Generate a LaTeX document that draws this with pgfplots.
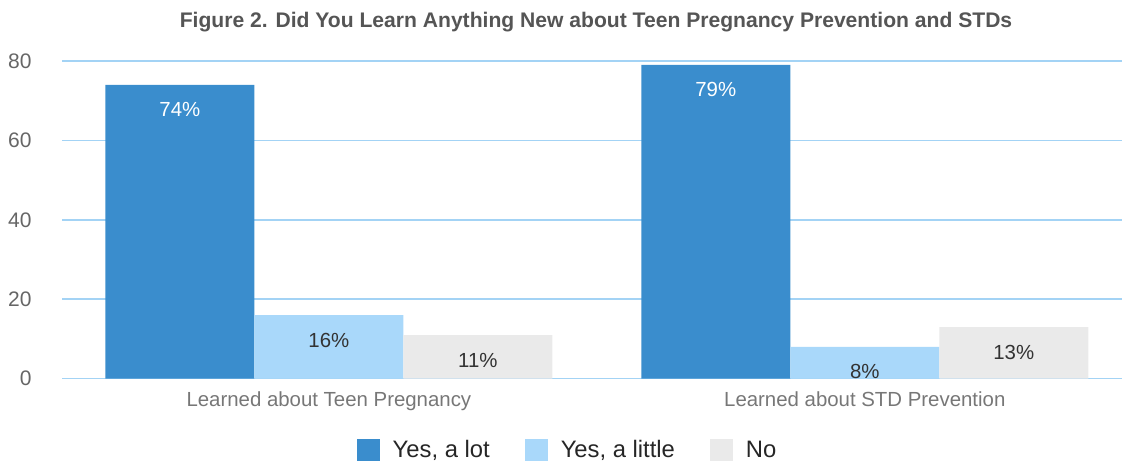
\documentclass[border=0pt]{standalone}
\usepackage{pgfplots}
\pgfplotsset{compat=1.18}
\usepackage{fontspec}
\setmainfont{Liberation Sans}
\definecolor{cdark}{HTML}{3A8DCD}
\definecolor{clight}{HTML}{A9D8FA}
\definecolor{cgray}{HTML}{EAEAEA}
\definecolor{cgrid}{HTML}{A3D3F5}
\definecolor{ctick}{HTML}{666666}
\definecolor{ccat}{HTML}{777777}
\definecolor{ctitle}{HTML}{555555}
\definecolor{clabel}{HTML}{333333}
\begin{document}
\begin{tikzpicture}
\begin{axis}[
  scale only axis, width=530pt, height=158.85pt,
  xmin=-0.498, xmax=1.48, ymin=0, ymax=80,
  ybar=0pt, bar width=74.5pt,
  xtick={0,1},
  xticklabels={Learned about Teen Pregnancy, Learned about STD Prevention},
  ytick={0,20,40,60,80},
  ymajorgrids, major grid style={draw=cgrid, line width=0.8pt},
  axis line style={draw=none}, tick style={draw=none},
  /pgf/number format/assume math mode=true,
  yticklabel style={font=\fontsize{10.5}{12}\selectfont, text=ctick, anchor=east, inner sep=0pt, xshift=-15pt},
  xticklabel style={font=\fontsize{10.2}{12}\selectfont, text=ccat, anchor=base, inner sep=0pt, yshift=-9.8pt},
  clip=false,
  nodes near coords={\pgfmathprintnumber{\pgfplotspointmeta}\%},
  nodes near coords style={font=\fontsize{10.2}{12}\selectfont, anchor=center, yshift=-12.5pt, text=clabel},
  legend columns=3,
  legend style={draw=none, fill=none, at={(0.476,-0.226)}, anchor=center,
    font=\fontsize{11.9}{14}\selectfont, text=black!85, inner sep=0pt,
    nodes={inner sep=0pt},
    /tikz/every odd column/.append style={column sep=6.5pt},
    /tikz/every even column/.append style={column sep=17.5pt}},
  legend image code/.code={\fill[#1] (0pt,-5.75pt) rectangle (11.5pt,5.75pt);},
]
\addplot[fill=cdark, draw=none, every node near coord/.append style={text=white}] coordinates {(0,74) (1,79)};
\addlegendentry{Yes, a lot}
\addplot[fill=clight, draw=none] coordinates {(0,16) (1,8)};
\addlegendentry{Yes, a little}
\addplot[fill=cgray, draw=none] coordinates {(0,11) (1,13)};
\addlegendentry{No}
\node[font=\bfseries\fontsize{10.55}{12}\selectfont, text=ctitle, anchor=base, yshift=16.8pt, xshift=2pt] at (rel axis cs:0.5,1) {Figure 2. Did You Learn Anything New about Teen Pregnancy Prevention and STDs};
\coordinate (bl) at (rel axis cs:0,0);
\coordinate (tr) at (rel axis cs:1,1);
\end{axis}
\pgfresetboundingbox
\path ([xshift=-31pt,yshift=-41.15pt]bl) rectangle ([yshift=30.5pt]tr);
\end{tikzpicture}
\end{document}
